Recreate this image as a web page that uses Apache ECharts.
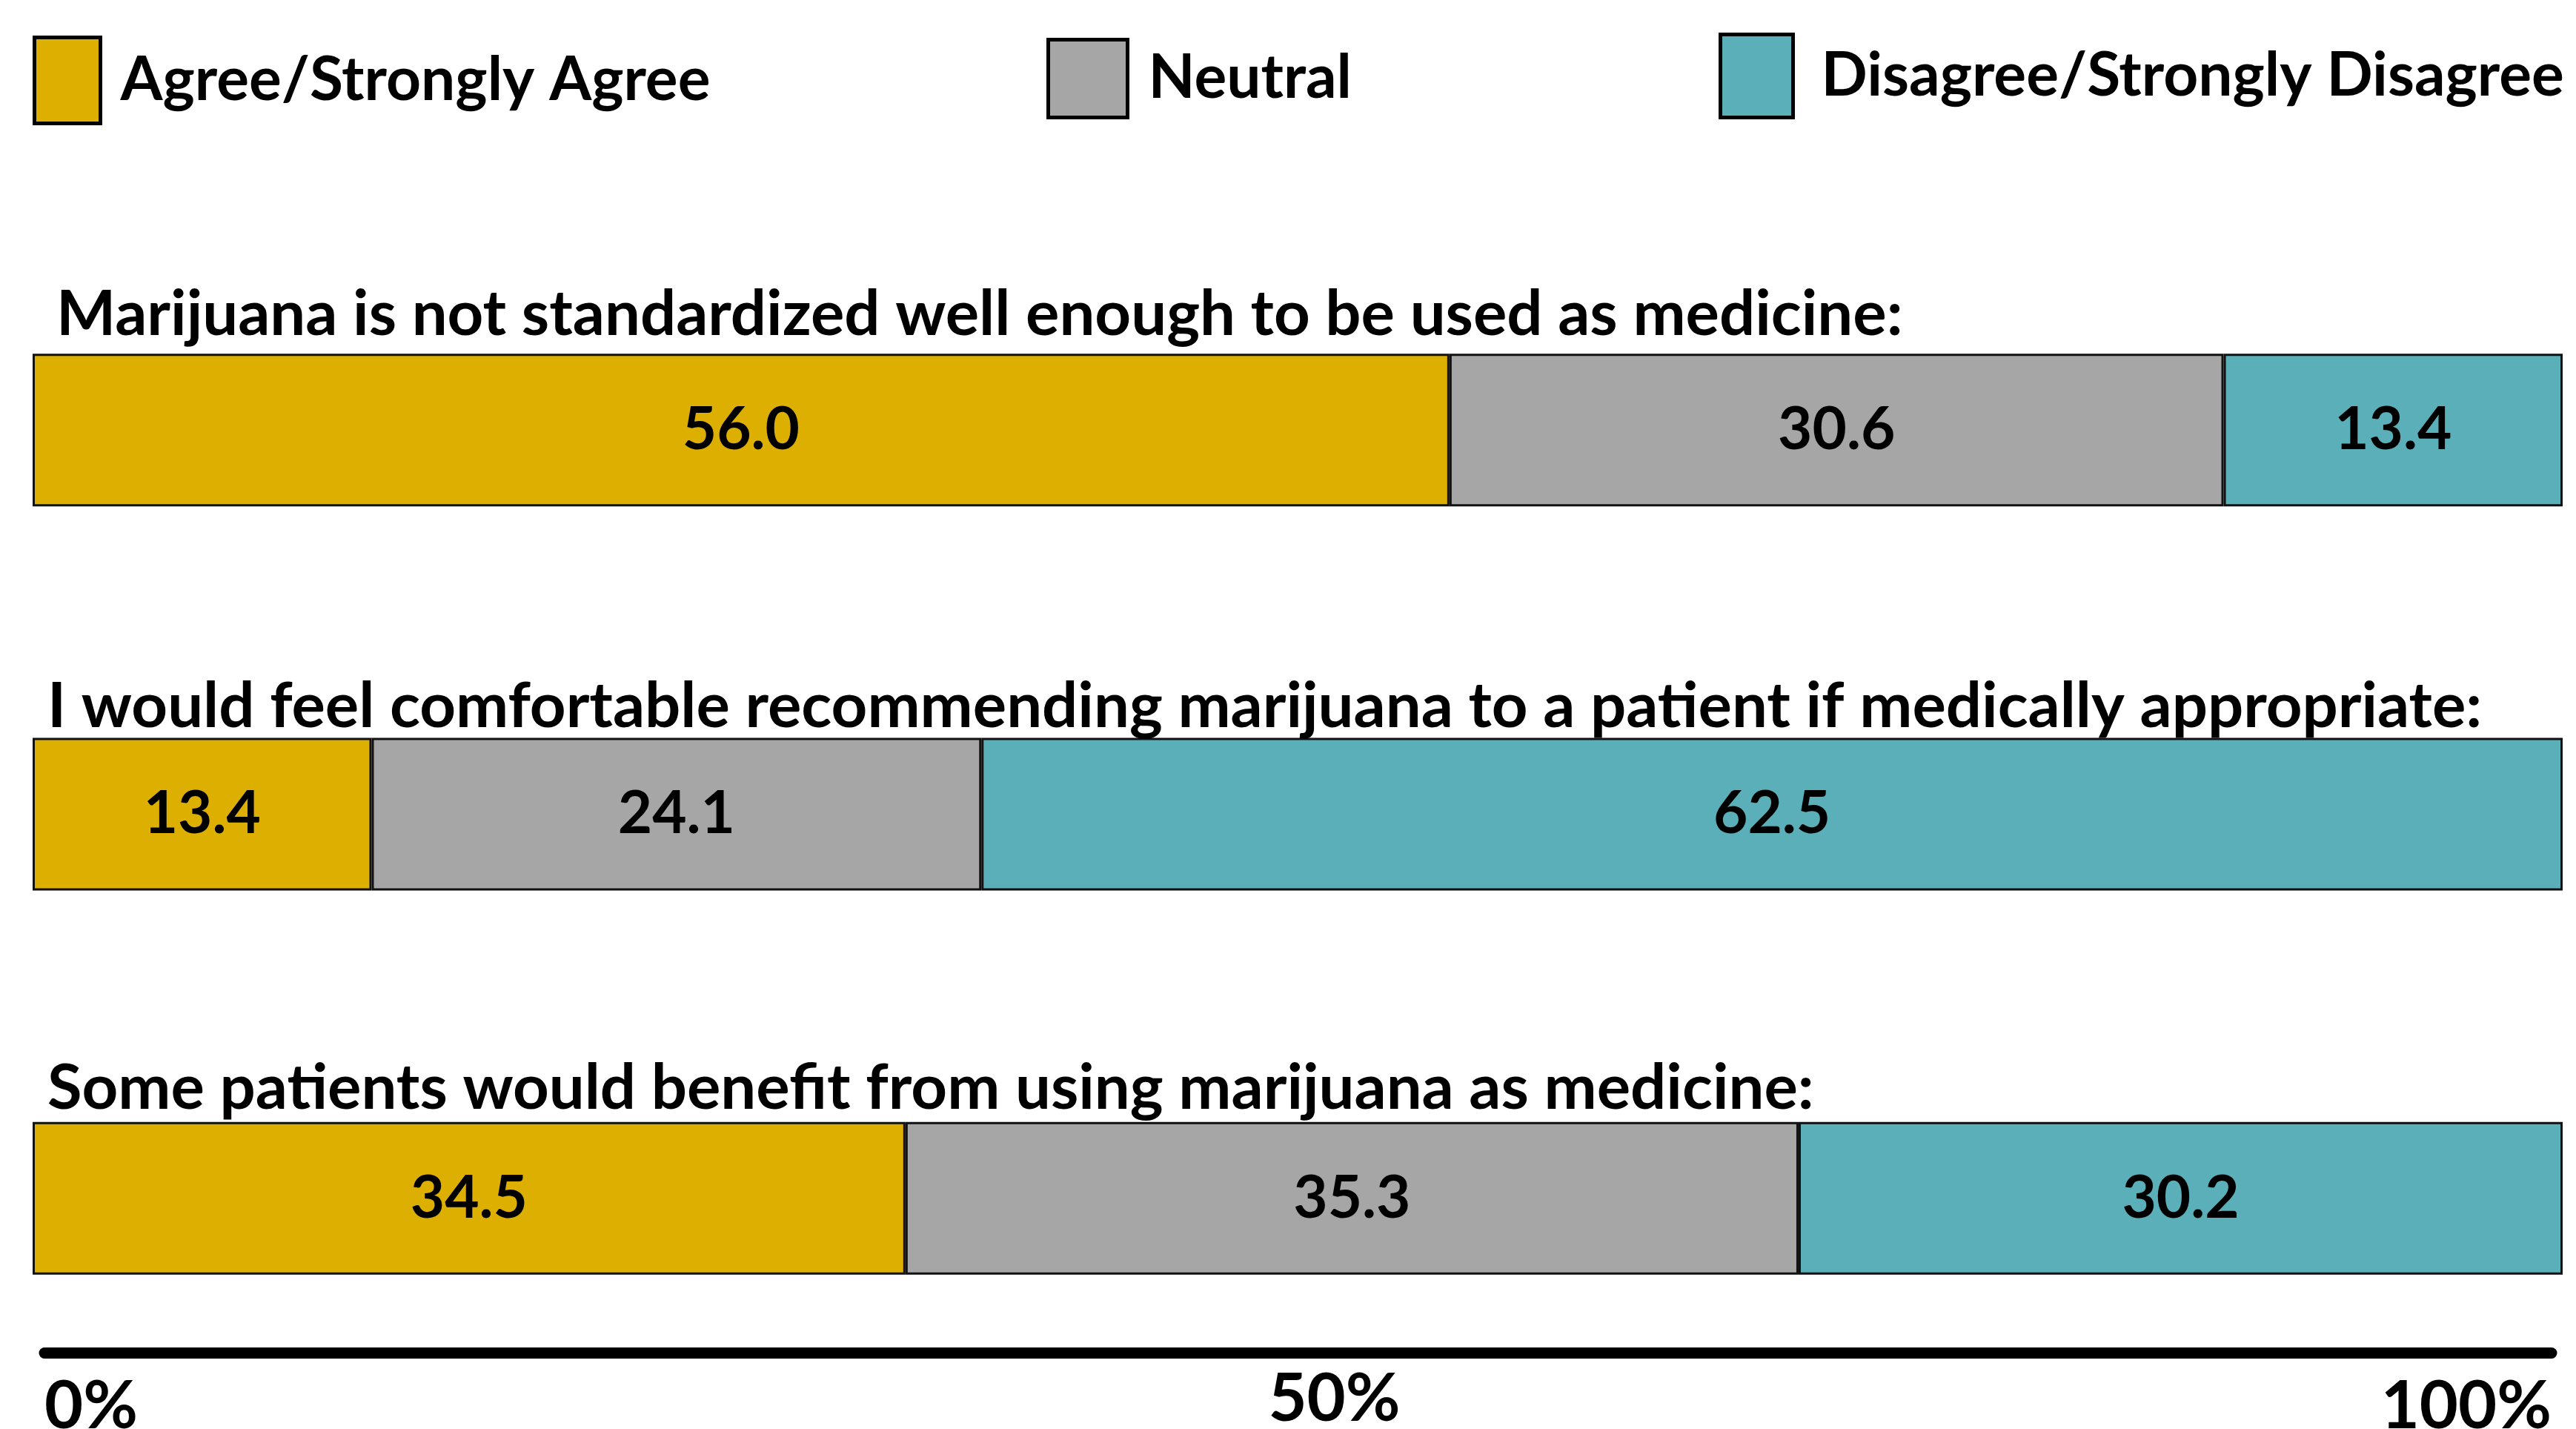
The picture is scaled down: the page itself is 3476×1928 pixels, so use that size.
<!DOCTYPE html>
<html>
<head>
<meta charset="utf-8">
<script src="https://cdn.jsdelivr.net/npm/echarts@6/dist/echarts.min.js"></script>
<style>
html,body{margin:0;padding:0;background:#fff;}
#main{width:3476px;height:1928px;}
</style>
</head>
<body>
<div id="main"></div>
<script>
const categories = [
  'Marijuana is not standardized well enough to be used as medicine:',
  'I would feel comfortable recommending marijuana to a patient if medically appropriate:',
  'Some patients would benefit from using marijuana as medicine:'
];
const seriesNames = ['Agree/Strongly Agree', 'Neutral', 'Disagree/Strongly Disagree'];
const agree = [56.0, 13.4, 34.5];
const neutral = [30.6, 24.1, 35.3];
const disagree = [13.4, 62.5, 30.2];
const axisTicks = [0, 50, 100];

const FONT = "Lato, 'DejaVu Sans Condensed', sans-serif";
const colors = ['#DDAF00', '#A6A6A6', '#5AAFB9'];

const chart = echarts.init(document.getElementById('main'), null, {renderer: 'canvas'});

function mkSeries(name, data, color) {
  return {
    name: name,
    type: 'bar',
    stack: 'total',
    xAxisIndex: 0,
    yAxisIndex: 0,
    barWidth: 206,
    data: data,
    itemStyle: {color: color, borderColor: '#111', borderWidth: 3},
    label: {
      show: true,
      position: 'inside',
      formatter: p => p.value.toFixed(1),
      fontFamily: FONT,
      fontWeight: 'bold',
      fontSize: 80,
      color: '#000'
    }
  };
}

function mkLegend(name, left, top, w, h, gap) {
  return {
    data: [name],
    left: left,
    top: top,
    orient: 'horizontal',
    icon: 'rect',
    itemWidth: w,
    itemHeight: h,
    padding: 0,
    itemStyle: {borderColor: '#000', borderWidth: 5},
    selectedMode: false,
    textStyle: {
      fontFamily: FONT,
      fontWeight: 'bold',
      fontSize: 82,
      color: '#000',
      padding: [0, 0, 0, gap]
    }
  };
}

const titleRich = {};
[[230, 12], [207, 0], [214, 0]].forEach((p, i) => {
  titleRich['t' + i] = {
    fontFamily: FONT, fontWeight: 'bold', fontSize: 85, lineHeight: 82,
    color: '#000', padding: [0, 0, p[0], p[1]]
  };
});

const option = {
  backgroundColor: '#fff',
  animation: false,
  legend: [
    mkLegend(seriesNames[0], 44, 48, 89, 116, 22),
    mkLegend(seriesNames[1], 1412, 51, 107, 105, 23),
    mkLegend(seriesNames[2], 2319, 44, 98, 112, 33)
  ],
  grid: [
    {left: 44, right: 18, top: 321, height: 1555, containLabel: false, outerBoundsMode: 'none'},
    {left: 60, right: 33, top: 1700, height: 125, containLabel: false, outerBoundsMode: 'none'}
  ],
  xAxis: [
    {type: 'value', gridIndex: 0, min: 0, max: 100, show: false},
    {
      type: 'value', gridIndex: 1, min: 0, max: 100, interval: 50,
      position: 'bottom',
      axisLine: {show: true, lineStyle: {color: '#000', width: 15}},
      axisTick: {show: false},
      splitLine: {show: false},
      axisLabel: {
        show: true,
        margin: 18,
        showMinLabel: true,
        showMaxLabel: true,
        alignMinLabel: 'left',
        alignMaxLabel: 'right',
        formatter: v => axisTicks.indexOf(v) === 1 ? '{m|' + v + '%}' : '{e|' + v + '%}',
        rich: {
          m: {fontFamily: FONT, fontWeight: 'bold', fontSize: 90, lineHeight: 90, verticalAlign: 'top', color: '#000', padding: [0, 0, 0, 98]},
          e: {fontFamily: FONT, fontWeight: 'bold', fontSize: 90, lineHeight: 100, verticalAlign: 'bottom', color: '#000'}
        }
      }
    }
  ],
  yAxis: [
    {
      type: 'category', gridIndex: 0, inverse: true,
      data: categories,
      axisLine: {show: false},
      axisTick: {show: false},
      splitLine: {show: false},
      z: 10,
      axisLabel: {
        inside: true,
        margin: 20,
        align: 'left',
        verticalAlign: 'bottom',
        interval: 0,
        formatter: (v, i) => '{t' + i + '|' + v + '}',
        rich: titleRich
      }
    },
    {type: 'value', gridIndex: 1, show: false}
  ],
  series: [
    mkSeries(seriesNames[0], agree, colors[0]),
    mkSeries(seriesNames[1], neutral, colors[1]),
    mkSeries(seriesNames[2], disagree, colors[2])
  ]
};
chart.setOption(option);
</script>
</body>
</html>
